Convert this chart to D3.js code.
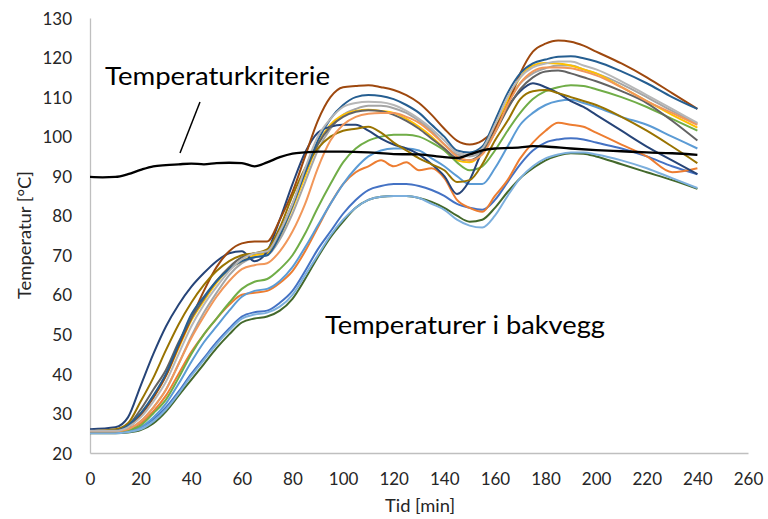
<!DOCTYPE html>
<html><head><meta charset="utf-8">
<script src="https://cdn.jsdelivr.net/npm/d3@7"></script>
<style>html,body{margin:0;padding:0;background:#fff;}svg{display:block;font-family:Lato,"Open Sans",sans-serif;}</style>
</head><body>
<svg id="chart" width="768" height="519"></svg>
<script>
const times = [0,10,15,20,25,30,35,40,45,50,55,60,65,70,75,80,85,90,95,100,105,110,115,120,125,130,135,140,145,150,155,160,165,170,175,180,185,190,195,200,210,220,230,240];

const sBlue = [25.2,25.2,25.5,26.5,28.5,31.5,35.5,40,44,48,51.5,54.5,55.6,56,58,61,66,71.5,76,80.5,84,86.5,87.5,88,88,87.5,86.5,85,83,82,81.5,84,88.5,93,96.5,98.5,99.3,99.6,99.3,98.5,97,95,92.5,90.5];
const sOrange = [25.5,25.5,26,27.5,30.5,34.5,40,45.5,50,54,57.5,60,60.5,61,63,66,71,77,83,88,91,92.5,94,92.5,93.5,91.5,92,89.5,84,82,81,85,89,94.5,98.5,101.5,103.5,103,102.5,101,98,95,91,92];
const sGray = [25.5,25.5,26,28,31.5,36,42.5,49.5,55.5,60.5,65,68,69.5,70,74,80.5,88.5,96.5,102,105.5,107,107.8,107.8,107.2,106,104,101.5,98,95.5,95,96.5,102,108.5,113.5,116,117.3,118,118,117,116,113.3,110,106.5,103.3];
const sGold = [25.5,25.6,27,30,34,39.5,46.5,53.5,58.5,63,66.5,68.5,70,70.5,75,82,90,98,103,105.5,106.5,106.8,106.5,106,104.5,102.5,100,97,94,93.5,96,102,109,115,118,118.6,118.5,118,117,116,112.5,109,105.5,102.3];
const sLightBlue = [25.2,25.2,25.5,26.5,29,32.5,37.5,43,48,52,56,59.5,61,61.5,63.5,67,72,77.5,83,88,92,95,96.5,97,97,96.5,94.5,92.5,90,88,88,92,97.5,103,106,108,109,109.3,108.5,107.5,105,103,100,97];
const sGreen = [25.3,25.3,25.8,27,30,33.5,39,45,50,54,58,61.5,63.3,64,66.5,70,75.5,82,88,93.5,97,99,100,100.5,100.5,100,98.5,96.5,93.5,91.5,92.5,96.5,101.5,106,109.5,111.5,112.5,113,112.8,112,110,107.5,104.5,101.5];
const sNavy = [26,26.5,29,37,45,52,57.5,62,65.5,68.5,70.5,71,68.5,71,79,88,96,101,102.5,103,103,101.5,99.5,98,97,95.5,93,90,85.5,89,96.5,102,107.5,111.5,113.5,112.5,111,109,107.5,105.5,101.5,97.5,94,90.5];
const sBrown = [25.5,25.8,26.5,29.5,34,39.5,47,54,61,67,71,73,73.5,73.5,79,86,95,104,110,112.5,112.8,113,112.5,111.8,110.5,108.5,105.5,102,99,98,99,102,108,116,121.5,123.5,124.3,124,123,121.5,118.5,115,111,107];
const sDarkGray = [25.5,25.8,27,31,36,41,48,54,59,63.5,67,69.5,70.5,71,76,83,91,98,102.5,105,106.3,106.7,106.5,105.5,104,102,99.5,97,94.5,94,96,101,107,112,115,116.5,116.7,116,115,114,111.5,108.5,104,99];
const sOlive = [25.5,26,27.5,33,39,46,52.5,58,62.5,66,68.5,70,70.5,71.5,77,85,92,97,100,101.5,102,102.5,101,98.5,96.5,94.5,93,91.5,88.5,89,93,99,104,109.5,111.5,111.8,111,110,109,108,105,101.5,97.5,93.3];
const sSteel = [25.5,25.6,27,30,34.5,40,47.5,55,59.5,63.5,66.5,68.5,69.5,70,75,82.5,91,99,104.5,108,110,110.5,110.3,109.5,108,106,103,100,96.5,96,97.5,104,111,116,118.5,119.5,120.2,120.3,119.8,119,116.5,113.5,110,107];
const sDarkGreen = [25,25,25.2,25.8,27.5,30.5,34.5,38.5,42.5,46.5,50,53,54,54.5,56,59,64,69.5,74.5,78.5,82,84,84.8,85,85,84.5,83.5,82,80,78.5,79,82,86,89.5,92,94,95.2,95.8,95.7,95,93,91,89,86.8];
const sLowBlue = [25,25,25.3,26,28,31,35,39.5,43.5,47.5,51,54,55,55.5,57,60,65,70,75,79,82,84,84.8,85,85,84.5,83,81.5,79,77.5,77,80,85,89.5,92.5,94.5,95.5,96,96,95.5,94,92,89.5,87];
const sSalmon = [25.5,25.5,26,28,31.5,36,42.5,49,54.5,59.5,63.5,66.5,67.5,68,71,76,83,92,99,103,105,105.8,106,106,105,103.5,101,98,95,94,95.5,101,108,113.5,116.5,117.5,117.5,117.3,116.5,115.5,112.5,109,106,103];
const sLightGray = [25.6,25.6,26.5,29,33,38,45,52,57.5,62,66,69,70.5,71,76,83,92,100,104.5,107.5,108.5,108.8,108.7,108,106.5,104.5,102,99,96,95.5,97,103,110,115,117.5,118.5,119,119,118,117,114,110.5,107,103.5];

const seriesValues = [sBlue, sOrange, sGray, sGold, sLightBlue, sGreen, sNavy, sBrown, sDarkGray, sOlive, sSteel, sDarkGreen, sLowBlue, sSalmon, sLightGray];
const seriesColors = ["#4472C4","#ED7D31","#A5A5A5","#FFC000","#5B9BD5","#70AD47","#264478","#9E480E","#636363","#997300","#255E91","#43682B","#7CAFDD","#F1975A","#B7B7B7"];

const critTimes = [0,5,10,15,20,25,30,35,40,45,50,55,60,65,70,75,80,85,90,100,110,120,130,140,145,150,155,160,170,175,180,190,200,210,220,230,240];
const critValues = [89.8,89.7,89.8,90.5,91.6,92.5,92.8,93,93.2,93,93.3,93.4,93.3,92.5,93.5,94.8,95.7,96,96.2,96.2,96,95.6,95.5,94.8,94.6,95.5,96.5,97,97.3,97.6,97.5,97,96.6,96.3,96,95.8,95.4];

const xTicks = [0,20,40,60,80,100,120,140,160,180,200,220,240,260];
const yTicks = [20,30,40,50,60,70,80,90,100,110,120,130];

const svg = d3.select("#chart");
const x = d3.scaleLinear().domain([0,260]).range([90,748]);
const y = d3.scaleLinear().domain([20,130]).range([453,18]);

// axes
const xAxis = svg.append("g").attr("transform","translate(0,453)")
  .call(d3.axisBottom(x).tickValues(xTicks).tickSize(0).tickPadding(0));
xAxis.select(".domain").attr("stroke","#BFBFBF").attr("stroke-width",1.3);
xAxis.selectAll("text").attr("font-size",17).attr("fill","#262626")
  .attr("font-family","Lato, sans-serif").attr("dy",0).attr("y",32);

const yAxis = svg.append("g").attr("transform","translate(90,0)")
  .call(d3.axisLeft(y).tickValues(yTicks).tickSize(0).tickPadding(0));
yAxis.select(".domain").attr("stroke","#BFBFBF").attr("stroke-width",1.3);
yAxis.selectAll("text").attr("font-size",17).attr("fill","#262626")
  .attr("font-family","Lato, sans-serif").attr("x",-18).attr("dy","0.36em");

const line = d3.line().x((d,i)=>x(times[i])).y(d=>y(d)).curve(d3.curveMonotoneX);
seriesValues.forEach((vals,k)=>{
  svg.append("path").datum(vals).attr("d",line).attr("fill","none")
    .attr("stroke",seriesColors[k]).attr("stroke-width",2).attr("stroke-linejoin","round");
});

const critLine = d3.line().x((d,i)=>x(critTimes[i])).y(d=>y(d)).curve(d3.curveMonotoneX);
svg.append("path").datum(critValues).attr("d",critLine).attr("fill","none")
  .attr("stroke","#000").attr("stroke-width",2.3);

// axis titles
svg.append("text").attr("x",420).attr("y",512).attr("text-anchor","middle")
  .attr("font-size",17).attr("fill","#262626")
  .attr("textLength",70).attr("lengthAdjust","spacingAndGlyphs").text("Tid [min]");
svg.append("text").attr("transform","translate(31,235) rotate(-90)").attr("text-anchor","middle")
  .attr("font-size",17).attr("fill","#262626")
  .attr("textLength",128).attr("lengthAdjust","spacingAndGlyphs").text("Temperatur [°C]");

// annotations
svg.append("text").attr("x",105).attr("y",85).attr("font-size",25).attr("fill","#000")
  .attr("textLength",225).attr("lengthAdjust","spacingAndGlyphs").text("Temperaturkriterie");
svg.append("line").attr("x1",200).attr("y1",102).attr("x2",180).attr("y2",153)
  .attr("stroke","#000").attr("stroke-width",1.5);
svg.append("text").attr("x",325).attr("y",334).attr("font-size",25).attr("fill","#000")
  .attr("textLength",280).attr("lengthAdjust","spacingAndGlyphs").text("Temperaturer i bakvegg");
</script>
</body></html>
